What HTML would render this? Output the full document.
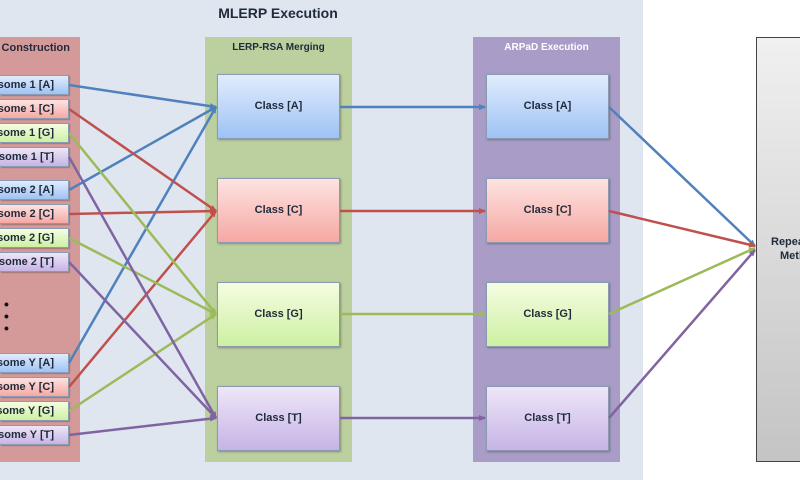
<!DOCTYPE html>
<html><head><meta charset="utf-8"><style>
body{margin:0;width:800px;height:480px;overflow:hidden;background:#fff;font-family:"Liberation Sans",sans-serif;position:relative}
.a{position:absolute}
.t{font-weight:bold;font-size:11px;color:#1f2a3a;text-align:center}
.ch{position:absolute;left:0;width:69px;height:20px;border:1px solid #8a9ab0;border-left:none;box-sizing:border-box;overflow:hidden;box-shadow:1px 1px 1px rgba(0,0,0,.25)}
.ch span{position:absolute;right:14px;top:0;line-height:19px;font-weight:bold;font-size:11px;color:#1f2a3a;white-space:nowrap}
.cl{position:absolute;width:123px;height:65px;box-sizing:border-box;border:1px solid #8a9ab0;font-weight:bold;font-size:11px;color:#1f2a3a;text-align:center;line-height:63px;box-shadow:1px 1px 2px rgba(0,0,0,.3)}
.A{background:linear-gradient(#e1ecfd,#9ec3f5)}
.C{background:linear-gradient(#fde3e1,#f6a8a3)}
.G{background:linear-gradient(#f5fde1,#cdf0a3)}
.T{background:linear-gradient(#eee6f8,#c6b4e6)}
</style></head><body>
<div class="a" style="left:0;top:0;width:643px;height:480px;background:#dfe6f0"></div>
<div class="a" style="left:0;top:5px;width:556px;text-align:center;font-weight:bold;font-size:14px;color:#1f2a3a">MLERP Execution</div>
<div class="a" style="left:0;top:37px;width:80px;height:425px;background:#d49a9a"></div>
<div class="a" style="left:0;top:42px;width:70px;height:14px;overflow:hidden"><span class="a t" style="right:0;top:0;white-space:nowrap">Chromosome Construction</span></div>
<div class="a" style="left:205px;top:37px;width:147px;height:425px;background:#bccf9f"></div>
<div class="a t" style="left:205px;top:42px;width:147px;font-size:10px">LERP-RSA Merging</div>
<div class="a" style="left:473px;top:37px;width:147px;height:425px;background:#a99cc6"></div>
<div class="a t" style="left:473px;top:42px;width:147px;font-size:10px;color:#fff">ARPaD Execution</div>
<div class="a" style="left:756px;top:37px;width:44px;height:425px;border:1px solid #444;border-right:none;background:linear-gradient(#f0f0f0,#c4c4c4);box-sizing:border-box;overflow:hidden">
<span class="a t" style="left:14px;top:198px;text-align:left;white-space:nowrap">Repeated Pattern</span>
<span class="a t" style="left:23px;top:212px;text-align:left;white-space:nowrap">Methodology</span>
</div>

<div class="ch A" style="top:75px"><span>Chromosome 1 [A]</span></div>
<div class="ch C" style="top:99px"><span>Chromosome 1 [C]</span></div>
<div class="ch G" style="top:123px"><span>Chromosome 1 [G]</span></div>
<div class="ch T" style="top:147px"><span>Chromosome 1 [T]</span></div>
<div class="ch A" style="top:180px"><span>Chromosome 2 [A]</span></div>
<div class="ch C" style="top:204px"><span>Chromosome 2 [C]</span></div>
<div class="ch G" style="top:228px"><span>Chromosome 2 [G]</span></div>
<div class="ch T" style="top:252px"><span>Chromosome 2 [T]</span></div>
<div class="ch A" style="top:353px"><span>Chromosome Y [A]</span></div>
<div class="ch C" style="top:377px"><span>Chromosome Y [C]</span></div>
<div class="ch G" style="top:401px"><span>Chromosome Y [G]</span></div>
<div class="ch T" style="top:425px"><span>Chromosome Y [T]</span></div>
<div class="a" style="left:4px;top:298px;font-weight:bold;font-size:14px;line-height:12px;color:#111">•<br>•<br>•</div>

<div class="cl A" style="left:217px;top:74px">Class [A]</div>
<div class="cl C" style="left:217px;top:178px">Class [C]</div>
<div class="cl G" style="left:217px;top:282px">Class [G]</div>
<div class="cl T" style="left:217px;top:386px">Class [T]</div>
<div class="cl A" style="left:486px;top:74px">Class [A]</div>
<div class="cl C" style="left:486px;top:178px">Class [C]</div>
<div class="cl G" style="left:486px;top:282px">Class [G]</div>
<div class="cl T" style="left:486px;top:386px">Class [T]</div>

<svg class="a" style="left:0;top:0" width="800" height="480">
<defs>
<marker id="mb" markerUnits="userSpaceOnUse" markerWidth="7" markerHeight="7" refX="6" refY="3.5" orient="auto"><path d="M0,0.5L7,3.5L0,6.5z" fill="#4f81bd"/></marker>
<marker id="mr" markerUnits="userSpaceOnUse" markerWidth="7" markerHeight="7" refX="6" refY="3.5" orient="auto"><path d="M0,0.5L7,3.5L0,6.5z" fill="#c0504d"/></marker>
<marker id="mg" markerUnits="userSpaceOnUse" markerWidth="7" markerHeight="7" refX="6" refY="3.5" orient="auto"><path d="M0,0.5L7,3.5L0,6.5z" fill="#9bbb59"/></marker>
<marker id="mp" markerUnits="userSpaceOnUse" markerWidth="7" markerHeight="7" refX="6" refY="3.5" orient="auto"><path d="M0,0.5L7,3.5L0,6.5z" fill="#8064a2"/></marker>
</defs>
<g stroke-width="2.5" fill="none">
<g stroke="#4f81bd" marker-end="url(#mb)"><line x1="69" y1="85" x2="216" y2="107"/><line x1="69" y1="190" x2="216" y2="107"/><line x1="69" y1="363" x2="216" y2="107"/><line x1="340" y1="107" x2="485" y2="107"/><line x1="609" y1="107" x2="755" y2="246"/></g>
<g stroke="#c0504d" marker-end="url(#mr)"><line x1="69" y1="109" x2="216" y2="211"/><line x1="69" y1="214" x2="216" y2="211"/><line x1="69" y1="387" x2="216" y2="211"/><line x1="340" y1="211" x2="485" y2="211"/><line x1="609" y1="211" x2="755" y2="246"/></g>
<g stroke="#9bbb59" marker-end="url(#mg)"><line x1="69" y1="133" x2="216" y2="314"/><line x1="69" y1="238" x2="216" y2="314"/><line x1="69" y1="411" x2="216" y2="314"/><line x1="340" y1="314" x2="485" y2="314"/><line x1="609" y1="314" x2="755" y2="248"/></g>
<g stroke="#8064a2" marker-end="url(#mp)"><line x1="69" y1="157" x2="216" y2="418"/><line x1="69" y1="262" x2="216" y2="418"/><line x1="69" y1="435" x2="216" y2="418"/><line x1="340" y1="418" x2="485" y2="418"/><line x1="609" y1="418" x2="755" y2="250"/></g>
</g>
</svg>
</body></html>
